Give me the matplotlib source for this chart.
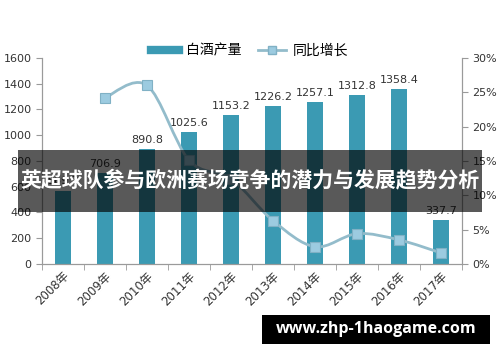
import matplotlib
matplotlib.use("Agg")
from matplotlib import pyplot as plt
from matplotlib.path import Path
from matplotlib.patches import PathPatch, Rectangle
from matplotlib.lines import Line2D
import numpy as np

plt.rcParams["font.family"] = ["DejaVu Sans", "Noto Sans CJK SC"]

years = ["2008年", "2009年", "2010年", "2011年", "2012年",
         "2013年", "2014年", "2015年", "2016年", "2017年"]
output = [569.3, 706.9, 890.8, 1025.6, 1153.2, 1226.2, 1257.1, 1312.8, 1358.4, 337.7]
growth = [None, 24.2, 26.0, 15.1, 12.4, 6.3, 2.5, 4.4, 3.5, 1.6]

title = "英超球队参与欧洲赛场竞争的潜力与发展趋势分析"
site = "www.zhp-1haogame.com"

bar_color = "#3b9ab3"
line_color = "#93bccb"
axis_gray = "#9a9a9a"
text_color = "#333333"

fig = plt.figure(figsize=(5, 3.62), dpi=100)
ax = fig.add_axes([0.084, 0.271, 0.84, 0.569])
ax2 = ax.twinx()

x = np.arange(len(years))
ax.bar(x, output, width=0.36, color=bar_color, zorder=2)
for xi, v in zip(x, output):
    ax.annotate(f"{v:.1f}", (xi, v), xytext=(0, 3), textcoords="offset points",
                ha="center", va="bottom", fontsize=8, color=text_color)

ax.set_xlim(-0.5, len(years) - 0.5)
ax.set_ylim(0, 1600)
ax.set_yticks(range(0, 1601, 200))
ax.set_xticks(x)
ax.set_xticklabels(years, rotation=45, ha="right", rotation_mode="anchor",
                   fontsize=8.5, color=text_color)
ax.set_xticks(np.arange(-0.5, len(years), 1), minor=True)
ax.tick_params(axis="x", which="major", length=0, pad=4)
ax.tick_params(axis="x", which="minor", length=4, color=axis_gray)
ax.tick_params(axis="y", length=4, color=axis_gray, labelsize=8, labelcolor=text_color)

for a in (ax, ax2):
    for s in a.spines.values():
        s.set_color(axis_gray)
    a.spines["top"].set_visible(False)

# growth line, smooth curve through the points
gx = [xi for xi, g in zip(x, growth) if g is not None]
gy = [g for g in growth if g is not None]
pts = np.column_stack([gx, gy]).astype(float)
verts = [pts[0]]
codes = [Path.MOVETO]
for i in range(len(pts) - 1):
    p0 = pts[max(i - 1, 0)]
    p1 = pts[i]
    p2 = pts[i + 1]
    p3 = pts[min(i + 2, len(pts) - 1)]
    verts += [p1 + (p2 - p0) / 6, p2 - (p3 - p1) / 6, p2]
    codes += [Path.CURVE4] * 3
ax2.add_patch(PathPatch(Path(verts, codes), fill=False, edgecolor=line_color,
                        lw=2, zorder=3))
ax2.plot(gx, gy, ls="none", marker="s", ms=7, mfc="#9ccbe0", mec="#80b1c5",
         mew=0.8, zorder=4)
ax2.set_ylim(0, 30)
ax2.set_yticks(range(0, 31, 5))
ax2.set_yticklabels([f"{t}%" for t in range(0, 31, 5)])
ax2.tick_params(axis="y", length=4, color=axis_gray, labelsize=8, labelcolor=text_color)

handles = [Line2D([], [], color=bar_color, lw=6),
           Line2D([], [], color=line_color, lw=2, marker="s", ms=6,
                  mfc="#9ccbe0", mec="#80b1c5")]
fig.legend(handles, ["白酒产量", "同比增长"], loc="center", ncol=2,
           bbox_to_anchor=(0.5, 0.86), frameon=False,
           handlelength=2.0, handletextpad=0.5, columnspacing=1.2,
           prop={"family": ["Noto Sans CJK SC"], "size": 10})

# title banner
fig.patches.append(Rectangle((0.036, 0.414), 0.928, 0.171, transform=fig.transFigure,
                             facecolor="black", alpha=0.65, zorder=10))
fig.text(0.5, 0.5, title, ha="center", va="center", color="white",
         fontsize=15, fontweight="bold", family=["Noto Sans CJK SC"], zorder=11)

# site band
fig.patches.append(Rectangle((0.524, 0.05), 0.456, 0.08, transform=fig.transFigure,
                             facecolor="black", zorder=10))
fig.text(0.752, 0.09, site, ha="center", va="center", color="white",
         fontsize=11.5, fontweight="bold", family=["Open Sans", "DejaVu Sans"], zorder=11)

fig.savefig("out.png", dpi=100)
